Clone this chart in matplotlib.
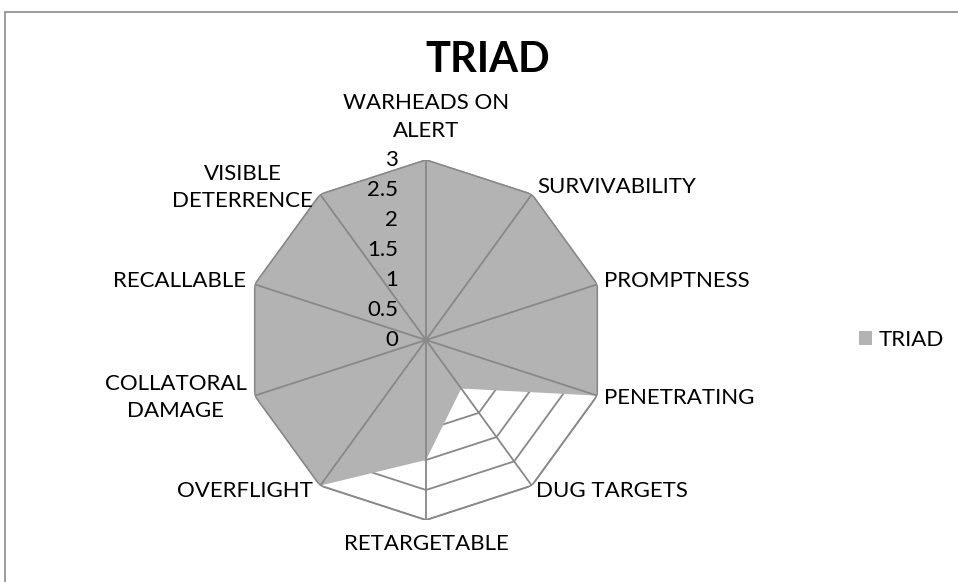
import numpy as np
import matplotlib
matplotlib.use("Agg")
import matplotlib.pyplot as plt
from matplotlib.patches import Rectangle

plt.rcParams["font.family"] = ["Lato", "DejaVu Sans"]

categories = ["WARHEADS ON\nALERT", "SURVIVABILITY", "PROMPTNESS", "PENETRATING",
              "DUG TARGETS", "RETARGETABLE", "OVERFLIGHT", "COLLATORAL\nDAMAGE",
              "RECALLABLE", "VISIBLE\nDETERRENCE"]
triad = [3, 3, 3, 3, 1, 2, 3, 3, 3, 3]
ticks = [0, 0.5, 1, 1.5, 2, 2.5, 3]
tick_labels = ["0", "0.5", "1", "1.5", "2", "2.5", "3"]

W, H = 958, 582
fig = plt.figure(figsize=(W / 100, H / 100), dpi=100)

# chart frame (right/bottom edges fall outside the picture)
fig.patches.append(Rectangle((5 / W, -0.1), 1.2, (H - 12) / H + 0.1, transform=fig.transFigure,
                             fill=False, edgecolor="#8c8c8c", lw=1.2))

cx, cy, r = 426, 340, 180
ax = fig.add_axes([(cx - r) / W, (H - cy - r) / H, 2 * r / W, 2 * r / H], projection="polar")
ax.set_theta_offset(np.pi / 2)
ax.set_theta_direction(-1)
ax.set_ylim(0, 3)
ax.grid(False)
ax.spines["polar"].set_visible(False)
ax.set_xticks([])
ax.set_yticks([])
ax.patch.set_alpha(0)

n = len(categories)
theta = np.arange(n) * 2 * np.pi / n
theta_c = np.append(theta, theta[0])
line_c = "#888888"

# decagon rings
for t in ticks[1:]:
    ax.plot(theta_c, [t] * (n + 1), color=line_c, lw=1.3, zorder=1)

vals = np.append(triad, triad[0])
ax.fill(theta_c, vals, color="#b3b3b3", lw=0, zorder=2, label="TRIAD")

# spokes and outer ring on top
for th in theta:
    ax.plot([th, th], [0, 3], color=line_c, lw=1.3, zorder=3)
ax.plot(theta_c, [3] * (n + 1), color=line_c, lw=1.0, zorder=3)

# value labels
for t, lab in zip(ticks, tick_labels):
    ax.annotate(lab, xy=(0, t), xytext=(-28, 0), textcoords="offset pixels",
                ha="right", va="center", fontsize=16, zorder=4, annotation_clip=False)

offsets = [(0, 43, "center"), (5, 7, "left"), (7, 3, "left"), (7, -2, "left"),
           (4, -5, "left"), (0, -24, "center"), (-7, -5, "right"), (-8, -2, "right"),
           (-9, 3, "right"), (-7, 7, "right")]
for th, lab, (dx, dy, ha) in zip(theta, categories, offsets):
    ax.annotate(lab, xy=(th, 3), xytext=(dx, dy), textcoords="offset pixels",
                ha=ha, va="center", multialignment="center", linespacing=1.45,
                fontsize=16, annotation_clip=False)

fig.text(487.5 / W, 1 - 60 / H, "TRIAD", ha="center", va="center",
         fontsize=30, fontweight="bold")

ax.legend(loc="center left", bbox_to_anchor=(848 / W, 1 - 340 / H),
          bbox_transform=fig.transFigure, frameon=False, fontsize=16,
          handlelength=0.6, handleheight=0.6, handletextpad=0.3, borderpad=0)

fig.savefig("out.png", dpi=100)
